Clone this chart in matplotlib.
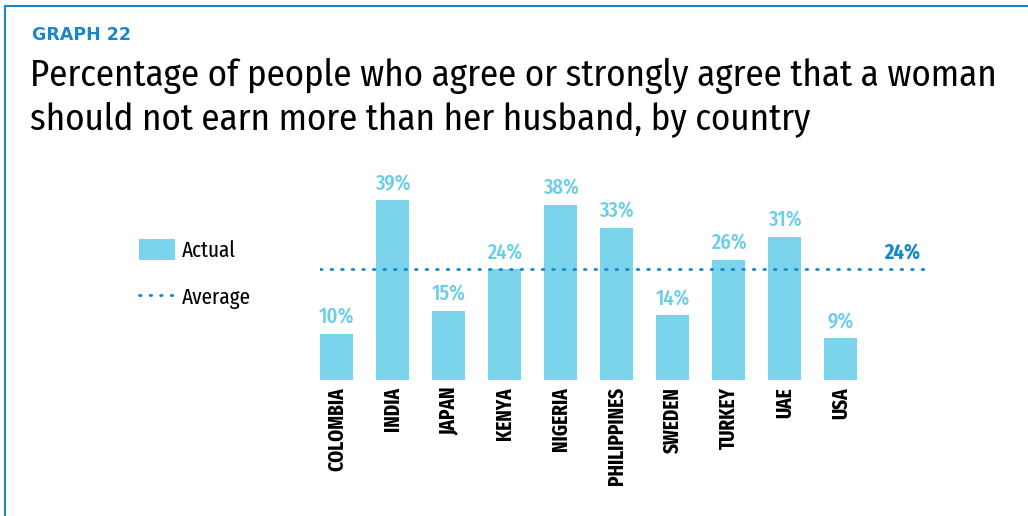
import matplotlib
matplotlib.use("Agg")
import matplotlib.pyplot as plt
from matplotlib.lines import Line2D
from matplotlib.patches import Patch

# data
countries = ["COLOMBIA", "INDIA", "JAPAN", "KENYA", "NIGERIA",
             "PHILIPPINES", "SWEDEN", "TURKEY", "UAE", "USA"]
agree_pct = [10, 39, 15, 24, 38, 33, 14, 26, 31, 9]
average_pct = 24

BAR_COLOR = "#79D4EC"
LABEL_COLOR = "#6CCDE9"
BLUE = "#1A87C9"
TITLE_FONT = ["Fira Sans Condensed", "DejaVu Sans"]
NARROW = ["Fira Sans Extra Condensed", "DejaVu Sans"]

W, H = 1028, 516
fig = plt.figure(figsize=(W / 100, H / 100), dpi=100)


def px(x0, y0, x1, y1):
    """pixel box (top-left origin) -> figure fraction rect"""
    return [x0 / W, 1 - y1 / H, (x1 - x0) / W, (y1 - y0) / H]


# frame lines (left and top edges only visible)
fig.add_artist(Line2D([5 / W, 5 / W], [0, 1 - 6 / H], color=BLUE, lw=1.5))
fig.add_artist(Line2D([5 / W, 1], [1 - 6 / H, 1 - 6 / H], color=BLUE, lw=1.5))

# heading
fig.text(32 / W, 1 - 35 / H, "GRAPH 22", color=BLUE, fontsize=12.5,
         fontweight="bold", family="DejaVu Sans", va="center")
fig.text(30 / W, 1 - 76 / H,
         "Percentage of people who agree or strongly agree that a woman",
         fontsize=26.5, family=TITLE_FONT, va="center")
fig.text(30 / W, 1 - 120 / H,
         "should not earn more than her husband, by country",
         fontsize=26.5, family=TITLE_FONT, va="center")

# axes: x from index -0.3 (px 320) to 10.7 ; y 0..40 with baseline at px 380
ax = fig.add_axes(px(320, 380 - 40 * 4.615, 320 + 11.0 * 56, 380))
x = list(range(len(countries)))
bars = ax.bar(x, agree_pct, width=0.59, color=BAR_COLOR)
ax.set_xlim(-0.3, 10.7)
ax.set_ylim(0, 40)

for xi, v in zip(x, agree_pct):
    ax.text(xi, v + 1.2, f"{v}%", ha="center", va="bottom", color=LABEL_COLOR,
            fontsize=16, fontweight="medium", family=NARROW, clip_on=False)

dots = (0, (0.6, 3.2))
avg_line, = ax.plot([-0.3, 10.63], [average_pct, average_pct], color=BLUE,
                    lw=2, linestyle=dots, dash_capstyle="round")
ax.text(10.1, average_pct + 1.2, f"{average_pct}%", ha="center", va="bottom",
        color=BLUE, fontsize=16, fontweight="bold", family=NARROW)

ax.set_xticks(x)
ax.set_xticklabels(countries, rotation=90, fontsize=15, fontweight="bold",
                   family=NARROW, va="top")
ax.tick_params(axis="x", length=0, pad=5)
ax.set_yticks([])
for s in ax.spines.values():
    s.set_visible(False)

# legend
leg_handles = [Patch(facecolor=BAR_COLOR, edgecolor="none"),
               Line2D([], [], color=BLUE, lw=2, linestyle=dots,
                      dash_capstyle="round")]
fig.legend(leg_handles, ["Actual", "Average"], loc="upper left",
           bbox_to_anchor=(139 / W, 1 - 239 / H), frameon=False,
           borderpad=0, borderaxespad=0,
           prop={"family": NARROW, "size": 16.5}, handlelength=1.55,
           handleheight=1.05, handletextpad=0.3, labelspacing=1.05)

fig.savefig("out.png", dpi=100)
